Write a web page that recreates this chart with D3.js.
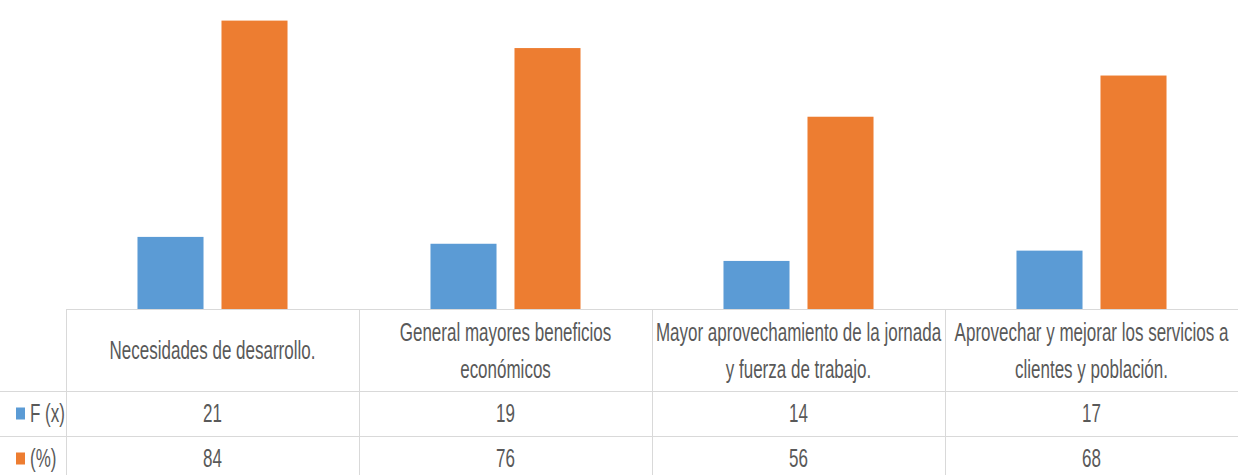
<!DOCTYPE html>
<html>
<head>
<meta charset="utf-8">
<script src="https://cdn.jsdelivr.net/npm/d3@7"></script>
<style>
  body { margin: 0; background: #ffffff; }
  svg text { font-family: "Liberation Sans", sans-serif; fill: #595959; }
</style>
</head>
<body>
<div id="bar_chart"></div>
<script>
var categories = [
    ["Necesidades de desarrollo."],
    ["General mayores beneficios", "económicos"],
    ["Mayor aprovechamiento de la jornada", "y fuerza de trabajo."],
    ["Aprovechar y mejorar los servicios a", "clientes y población."]
];
var seriesNames = ["F (x)", "(%)"];
var seriesColors = ["#5b9bd5", "#ed7d31"];
var fxValues = [21, 19, 14, 17];
var pctValues = [84, 76, 56, 68];

function barChartDraw(){

    var width = 1238, height = 475;
    var tableLeft = 66, baseY = 309;
    var rowTops = [391, 436];
    var rowH = 45;
    var squeeze = 0.68;
    var fontSize = 25;

    var svg = d3.select("#bar_chart")
    .append("svg")
        .attr("width", width)
        .attr("height", height);

    var catIdx = categories.map(function(d, i) { return i; });
    var allValues = [fxValues, pctValues];

    // category bands across the table columns
    var x0 = d3.scaleBand()
    .domain(catIdx)
    .range([tableLeft, width])
    .paddingInner(0)
    .paddingOuter(0);

    var x1 = d3.scaleBand()
    .domain([0, 1])
    .range([0, x0.bandwidth()])
    .paddingInner(0.214)
    .paddingOuter(0.851);

    var y = d3.scaleLinear()
    .domain([0, 90])
    .range([baseY, 0]);

    // Bars
    var groups = svg.selectAll("g.cat")
    .data(catIdx)
    .enter()
    .append("g")
        .attr("class", "cat")
        .attr("transform", function(d) { return "translate(" + x0(d) + ",0)"; });

    groups.selectAll("rect")
    .data(function(c) { return [0, 1].map(function(s) { return {s: s, v: allValues[s][c]}; }); })
    .enter()
    .append("rect")
        .attr("x", function(d) { return x1(d.s); })
        .attr("y", function(d) { return y(d.v); })
        .attr("width", x1.bandwidth())
        .attr("height", function(d) { return y(0) - y(d.v); })
        .style("fill", function(d) { return seriesColors[d.s]; });

    // Table grid
    var grid = svg.append("g")
        .attr("stroke", "#d9d9d9")
        .attr("stroke-width", 1);
    grid.append("line")
        .attr("x1", tableLeft).attr("x2", width)
        .attr("y1", baseY + 0.5).attr("y2", baseY + 0.5);
    rowTops.forEach(function(t) {
        grid.append("line")
            .attr("x1", 0).attr("x2", width)
            .attr("y1", t + 0.5).attr("y2", t + 0.5);
    });
    catIdx.forEach(function(c) {
        grid.append("line")
            .attr("x1", Math.round(x0(c)) + 0.5).attr("x2", Math.round(x0(c)) + 0.5)
            .attr("y1", baseY).attr("y2", height);
    });

    function addText(cx, cy, txt, anchor){
        svg.append("text")
            .attr("transform", "translate(" + cx + "," + cy + ") scale(" + squeeze + ",1)")
            .attr("text-anchor", anchor)
            .attr("dominant-baseline", "central")
            .style("font-size", fontSize + "px")
            .text(txt);
    }

    // Category labels
    categories.forEach(function(lines, c) {
        var cx = x0(c) + x0.bandwidth() / 2;
        var mid = (baseY + rowTops[0]) / 2 + 1;
        lines.forEach(function(l, i) {
            var cy = mid + (i - (lines.length - 1) / 2) * 37;
            addText(cx, cy, l, "middle");
        });
    });

    // Value rows + legend keys
    allValues.forEach(function(vals, s) {
        var cy = rowTops[s] + rowH / 2;
        vals.forEach(function(v, c) {
            addText(x0(c) + x0.bandwidth() / 2, cy, v, "middle");
        });
        svg.append("rect")
            .attr("x", 16)
            .attr("y", cy - 6)
            .attr("width", 9)
            .attr("height", 12)
            .style("fill", seriesColors[s]);
        addText(30, cy, seriesNames[s], "start");
    });
}

barChartDraw();
</script>
</body>
</html>
